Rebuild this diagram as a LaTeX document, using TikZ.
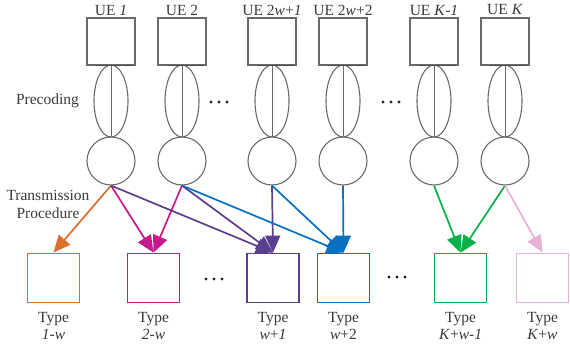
\documentclass[tikz,border=0pt]{standalone}
\usepackage{fontspec}
\setmainfont{Liberation Serif}
\usetikzlibrary{shapes.geometric,arrows.meta}
\definecolor{cgray}{HTML}{6A6A6A}
\definecolor{ctext}{HTML}{3A3A3A}
\definecolor{corange}{HTML}{D8702E}
\definecolor{cmagenta}{HTML}{C8198C}
\definecolor{cpurple}{HTML}{5A3F8E}
\definecolor{cblue}{HTML}{0A6FBF}
\definecolor{cgreen}{HTML}{0BB04A}
\definecolor{cpink}{HTML}{E8B2D6}
\tikzset{
  lbl/.style={font=\fontsize{15.5}{17}\selectfont, text=ctext, inner sep=0pt},
  uebox/.style={draw=cgray, line width=1.1pt, minimum width=48pt, minimum height=47pt, inner sep=0pt},
  pell/.style={draw=cgray, ellipse, line width=1.1pt, minimum width=34pt, minimum height=72pt, inner sep=0pt},
  ant/.style={draw=cgray, circle, line width=1.1pt, minimum size=48pt, inner sep=0pt},
  typebox/.style={draw, line width=1.8pt, minimum width=52pt, minimum height=49pt, inner sep=0pt},
  conn/.style={draw=cgray, line width=1pt},
  arr/.style={line width=1.7pt, -{Triangle[length=17pt,width=15pt]}},
  dotc/.style={fill=black!85}
}
\begin{document}
\begin{tikzpicture}[x=1pt,y=-1pt]
\useasboundingbox (0,0) rectangle (570,345);
% UE columns
\foreach \n/\cx/\t in {1/111/{UE \textit{1}},2/182/{UE 2},3/272/{UE 2\textit{w}+\textit{1}},4/343/{UE 2\textit{w}+2},5/434/{UE \textit{K}-\textit{1}},6/505/{UE \textit{K}}}{
  \node[uebox] (u\n) at (\cx,41.5) {};
  \node[lbl] (ul\n) at (\cx,10) {\t};
  \node[pell] (e\n) at (\cx,101) {};
  \node[ant] (c\n) at (\cx,161) {};
  \draw[conn] (u\n.south) -- (c\n.north);
  \draw[line width=1.4pt, draw=black!70] ([xshift=-15pt]u\n.south) -- ([xshift=22pt]u\n.south);
}
% Type boxes
\node[typebox, draw=corange]  (t1) at (53.5,278) {};
\node[typebox, draw=cmagenta] (t2) at (153.5,278) {};
\node[typebox, draw=cpurple]  (t3) at (273,278) {};
\node[typebox, draw=cblue]    (t4) at (343.5,278) {};
\node[typebox, draw=cgreen]   (t5) at (460.5,278) {};
\node[typebox, draw=cpink]    (t6) at (542.5,278) {};
\node[lbl, align=center] (tl1) at (53.5,325.5) {Type\\\textit{1-w}};
\node[lbl, align=center] (tl2) at (153.5,325.5) {Type\\\textit{2-w}};
\node[lbl, align=center] (tl3) at (273,325.5) {Type\\\textit{w}+\textit{1}};
\node[lbl, align=center] (tl4) at (343.5,325.5) {Type\\\textit{w}+2};
\node[lbl, align=center] (tl5) at (460.5,325.5) {Type\\\textit{K}+\textit{w}-\textit{1}};
\node[lbl, align=center] (tl6) at (542.5,325.5) {Type\\\textit{K}+\textit{w}};
% side labels
\node[lbl] (prec) at (47.5,101) {Precoding};
\node[lbl, align=center, font=\fontsize{15.5}{18}\selectfont] (trans) at (48,204) {Transmission\\Procedure};
% arrows
\draw[arr, corange]  (c1.south) -- (t1.north);
\draw[arr, cmagenta] (c1.south) -- (t2.north);
\draw[arr, cmagenta] (c2.south) -- (t2.north);
\draw[arr, cpurple]  (c1.south) -- (t3.north);
\draw[arr, cpurple]  (c2.south) -- (t3.north);
\draw[arr, cpurple]  (c3.south) -- (t3.north);
\draw[arr, cblue]    (c2.south) -- (t4.north);
\draw[arr, cblue]    (c3.south) -- (t4.north);
\draw[arr, cblue]    (c4.south) -- (t4.north);
\draw[arr, cgreen]   (c5.south) -- (t5.north);
\draw[arr, cgreen]   (c6.south) -- (t5.north);
\draw[arr, cpink]    (c6.south) -- (t6.north);
% dots
\foreach \x/\y in {219/102, 391/102, 214/279, 397/277}{
  \fill[dotc] (\x-8,\y) circle (1.6pt);
  \fill[dotc] (\x,\y) circle (1.6pt);
  \fill[dotc] (\x+8,\y) circle (1.6pt);
}
\end{tikzpicture}
\end{document}
